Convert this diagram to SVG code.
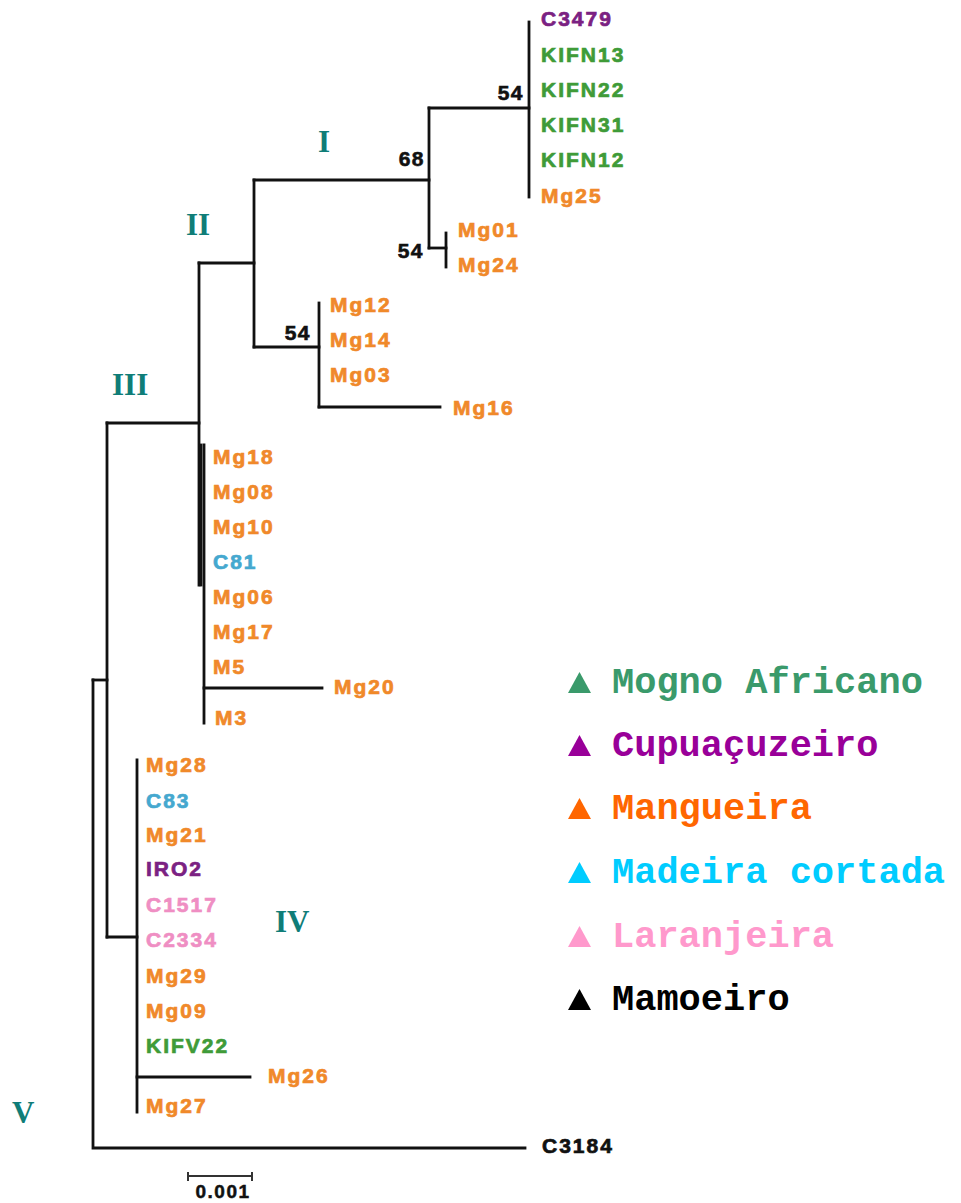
<svg xmlns="http://www.w3.org/2000/svg" width="961" height="1203" viewBox="0 0 961 1203">
<style>
.br{fill:none;stroke:#111;stroke-width:2.8;stroke-linecap:square}
.lf{font-family:"Liberation Sans",Arial,sans-serif;font-weight:bold;font-size:21px;letter-spacing:2px;stroke-width:0.7px}
.o{fill:#f0892a;stroke:#f0892a}.g{fill:#3f9b38;stroke:#3f9b38}.p{fill:#7b2182;stroke:#7b2182}.c{fill:#45a8cf;stroke:#45a8cf}.k{fill:#ef8ec3;stroke:#ef8ec3}.b{fill:#111;stroke:#111}
.bs{font-family:"Liberation Sans",Arial,sans-serif;font-weight:bold;font-size:21px;letter-spacing:1.5px;fill:#111;stroke:#111;stroke-width:0.6px;text-anchor:end}
.rn{font-family:"Liberation Serif","Times New Roman",serif;font-weight:bold;font-size:31px;fill:#0f7d78}
.lg{font-family:"Liberation Mono","Courier New",monospace;font-weight:bold;font-size:37px}
</style>
<rect width="961" height="1203" fill="#fff"/>
<g id="connectors">
<path class="br" d="M93,680 V1148 H525"/>
<path class="br" d="M93,680 H107"/>
<path class="br" d="M107,423 V937"/>
<path class="br" d="M107,423 H199"/>
<path class="br" d="M107,937 H137"/>
<path class="br" d="M199,263 V585"/>
<path class="br" d="M201,445 V585"/>
<path class="br" d="M204,445 V723"/>
<path class="br" d="M204,688 H322"/>
<path class="br" d="M199,263 H254"/>
<path class="br" d="M254,180 V347"/>
<path class="br" d="M254,180 H429"/>
<path class="br" d="M254,347 H319"/>
<path class="br" d="M319,303 V407"/>
<path class="br" d="M319,407 H440"/>
<path class="br" d="M429,108 V248"/>
<path class="br" d="M429,108 H529"/>
<path class="br" d="M529,22 V197"/>
<path class="br" d="M429,248 H446"/>
<path class="br" d="M446,233 V267"/>
<path class="br" d="M137,760 V1112"/>
<path class="br" d="M137,1077 H250"/>
<path d="M188,1176 H252 M188,1172 V1181 M252,1172 V1181" fill="none" stroke="#333" stroke-width="2"/>
</g>
<g id="bootstrap">
<text class="bs" x="524" y="100">54</text>
<text class="bs" x="425" y="166">68</text>
<text class="bs" x="424" y="258">54</text>
<text class="bs" x="311" y="340">54</text>
</g>
<g id="leaves">
<g id="n-C3479"><text class="lf p" x="541" y="26">C3479</text></g>
<g id="n-KIFN13"><text class="lf g" x="541" y="62">KIFN13</text></g>
<g id="n-KIFN22"><text class="lf g" x="541" y="97">KIFN22</text></g>
<g id="n-KIFN31"><text class="lf g" x="541" y="132">KIFN31</text></g>
<g id="n-KIFN12"><text class="lf g" x="541" y="167">KIFN12</text></g>
<g id="n-Mg25"><text class="lf o" x="541" y="203">Mg25</text></g>
<g id="n-Mg01"><text class="lf o" x="458" y="237">Mg01</text></g>
<g id="n-Mg24"><text class="lf o" x="458" y="272">Mg24</text></g>
<g id="n-Mg12"><text class="lf o" x="330" y="312">Mg12</text></g>
<g id="n-Mg14"><text class="lf o" x="330" y="347">Mg14</text></g>
<g id="n-Mg03"><text class="lf o" x="330" y="382">Mg03</text></g>
<g id="n-Mg16"><text class="lf o" x="453" y="415">Mg16</text></g>
<g id="n-Mg18"><text class="lf o" x="213" y="464">Mg18</text></g>
<g id="n-Mg08"><text class="lf o" x="213" y="499">Mg08</text></g>
<g id="n-Mg10"><text class="lf o" x="213" y="534">Mg10</text></g>
<g id="n-C81"><text class="lf c" x="213" y="569">C81</text></g>
<g id="n-Mg06"><text class="lf o" x="213" y="604">Mg06</text></g>
<g id="n-Mg17"><text class="lf o" x="213" y="639">Mg17</text></g>
<g id="n-M5"><text class="lf o" x="213" y="674">M5</text></g>
<g id="n-Mg20"><text class="lf o" x="334" y="694">Mg20</text></g>
<g id="n-M3"><text class="lf o" x="215" y="725">M3</text></g>
<g id="n-Mg28"><text class="lf o" x="146" y="772">Mg28</text></g>
<g id="n-C83"><text class="lf c" x="146" y="808">C83</text></g>
<g id="n-Mg21"><text class="lf o" x="146" y="842">Mg21</text></g>
<g id="n-IRO2"><text class="lf p" x="146" y="876">IRO2</text></g>
<g id="n-C1517"><text class="lf k" x="146" y="912">C1517</text></g>
<g id="n-C2334"><text class="lf k" x="146" y="947">C2334</text></g>
<g id="n-Mg29"><text class="lf o" x="146" y="983">Mg29</text></g>
<g id="n-Mg09"><text class="lf o" x="146" y="1018">Mg09</text></g>
<g id="n-KIFV22"><text class="lf g" x="146" y="1053">KIFV22</text></g>
<g id="n-Mg26"><text class="lf o" x="268" y="1083">Mg26</text></g>
<g id="n-Mg27"><text class="lf o" x="146" y="1113">Mg27</text></g>
<g id="n-C3184"><text class="lf b" x="542" y="1153">C3184</text></g>
</g>
<g id="clades">
<text class="rn" x="318" y="152">I</text>
<text class="rn" x="186" y="235">II</text>
<text class="rn" x="112" y="395">III</text>
<text class="rn" x="275" y="932">IV</text>
<text class="rn" x="12" y="1123">V</text>
</g>
<text x="223" y="1198" text-anchor="middle" font-family="Liberation Sans,Arial,sans-serif" font-weight="bold" font-size="19" letter-spacing="1.5" fill="#111" stroke="#111" stroke-width="0.5">0.001</text>
<g id="legend">
<g><polygon points="568,693 591,693 579.5,672" fill="#3a9a6b"/><text class="lg" x="612" y="693" fill="#3a9a6b">Mogno Africano</text></g>
<g><polygon points="568,756 591,756 579.5,735" fill="#990099"/><text class="lg" x="612" y="756" fill="#990099">Cupuaçuzeiro</text></g>
<g><polygon points="568,819 591,819 579.5,798" fill="#ff6600"/><text class="lg" x="612" y="819" fill="#ff6600">Mangueira</text></g>
<g><polygon points="568,883 591,883 579.5,862" fill="#00ccff"/><text class="lg" x="612" y="883" fill="#00ccff">Madeira cortada</text></g>
<g><polygon points="568,947 591,947 579.5,926" fill="#ff99cc"/><text class="lg" x="612" y="947" fill="#ff99cc">Laranjeira</text></g>
<g><polygon points="568,1010 591,1010 579.5,989" fill="#000"/><text class="lg" x="612" y="1010" fill="#000">Mamoeiro</text></g>
</g>
</svg>
